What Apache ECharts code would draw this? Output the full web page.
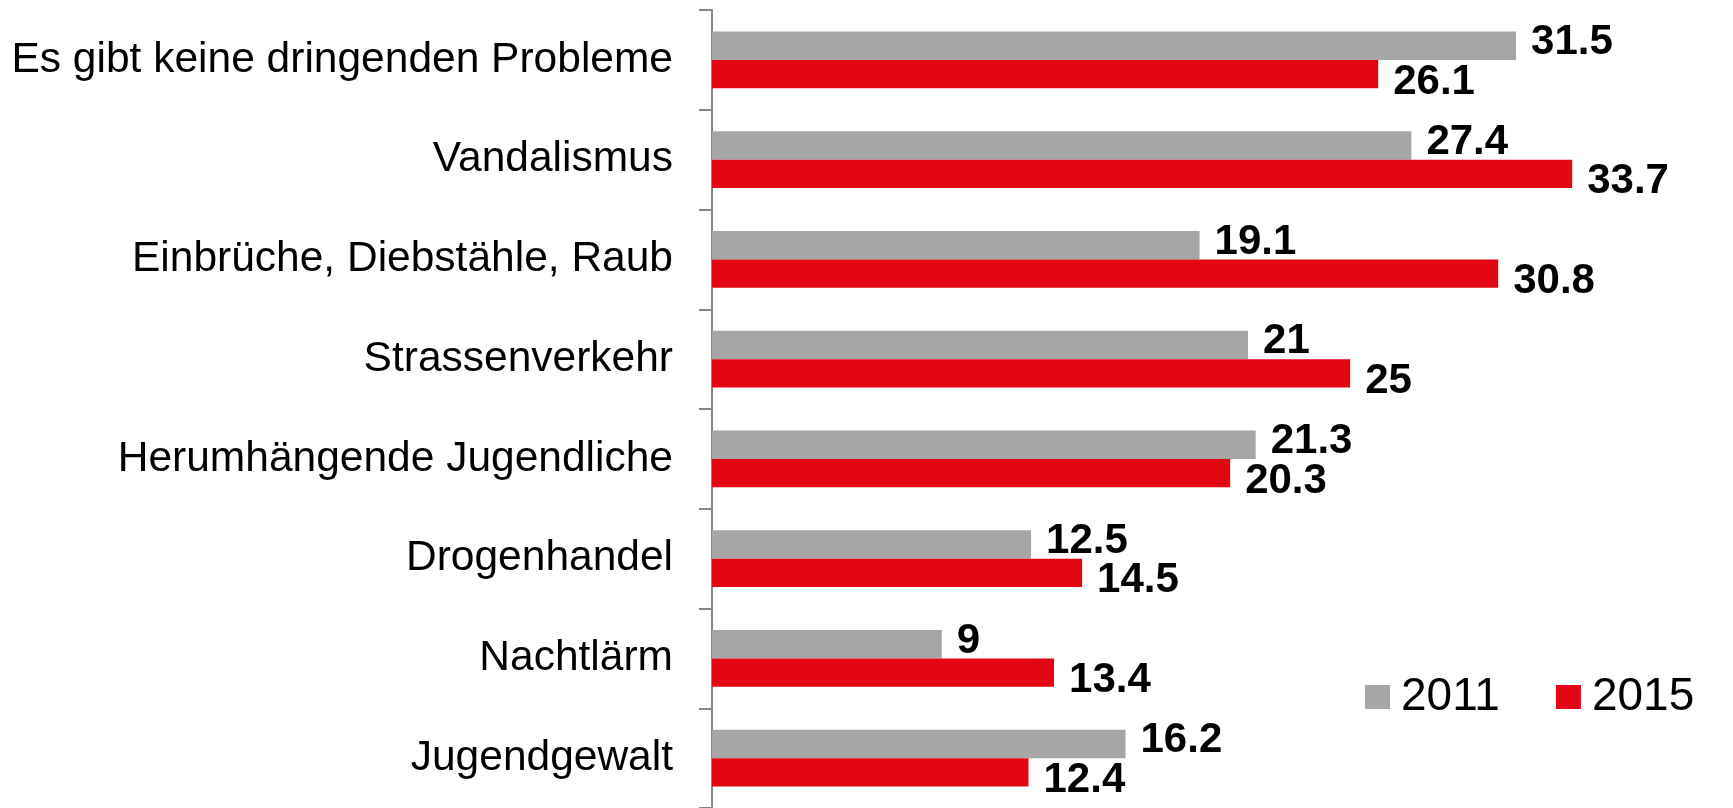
<!DOCTYPE html>
<html>
<head>
<meta charset="utf-8">
<script src="https://cdn.jsdelivr.net/npm/echarts@6/dist/echarts.min.js"></script>
<style>
  html, body { margin: 0; padding: 0; background: #ffffff; }
  #chart { width: 1733px; height: 808px; }
</style>
</head>
<body>
<div id="chart"></div>
<script>
// Problems named in the neighbourhood, share of respondents (%)
const categories = [
  'Es gibt keine dringenden Probleme',
  'Vandalismus',
  'Einbrüche, Diebstähle, Raub',
  'Strassenverkehr',
  'Herumhängende Jugendliche',
  'Drogenhandel',
  'Nachtlärm',
  'Jugendgewalt'
];
const seriesNames = ['2011', '2015'];
const values2011 = [31.5, 27.4, 19.1, 21, 21.3, 12.5, 9, 16.2];
const values2015 = [26.1, 33.7, 30.8, 25, 20.3, 14.5, 13.4, 12.4];

const FONT = '"Liberation Sans", Arial, sans-serif';
const GREY = '#a6a6a6';
const RED = '#e30613';

const chart = echarts.init(document.getElementById('chart'));

// Bold value label to the right of a bar, nudged up (2011) or down (2015)
function valueLabel(dy) {
  return {
    show: true,
    position: 'right',
    distance: 15,
    offset: [0, dy],
    color: '#000000',
    fontFamily: FONT,
    fontWeight: 'bold',
    fontSize: 42
  };
}

chart.setOption({
  animation: false,
  backgroundColor: '#ffffff',
  grid: { left: 712, top: 10, width: 1026, height: 800, containLabel: false },
  legend: {
    data: seriesNames,
    left: 1360,
    top: 669,
    itemWidth: 25,
    itemHeight: 24,
    itemGap: 56,
    icon: 'rect',
    textStyle: {
      fontFamily: FONT,
      fontSize: 46,
      color: '#000000',
      padding: [0, 0, 0, 6]
    }
  },
  xAxis: {
    type: 'value',
    min: 0,
    max: 40,
    show: false
  },
  yAxis: {
    type: 'category',
    data: categories,
    inverse: true,
    axisLine: { show: true, lineStyle: { color: '#888888', width: 2 } },
    axisTick: { show: true, length: 13, lineStyle: { color: '#888888', width: 2 } },
    axisLabel: {
      margin: 39,
      color: '#000000',
      fontFamily: FONT,
      fontSize: 42.5,
      padding: [7, 0, 0, 0]
    },
    splitLine: { show: false }
  },
  series: [
    {
      name: seriesNames[0],
      type: 'bar',
      data: values2011,
      barGap: '0%',
      barCategoryGap: '43%',
      itemStyle: { color: GREY },
      label: valueLabel(-3)
    },
    {
      name: seriesNames[1],
      type: 'bar',
      data: values2015,
      barGap: '0%',
      barCategoryGap: '43%',
      itemStyle: { color: RED },
      label: valueLabel(8)
    }
  ]
});
</script>
</body>
</html>
